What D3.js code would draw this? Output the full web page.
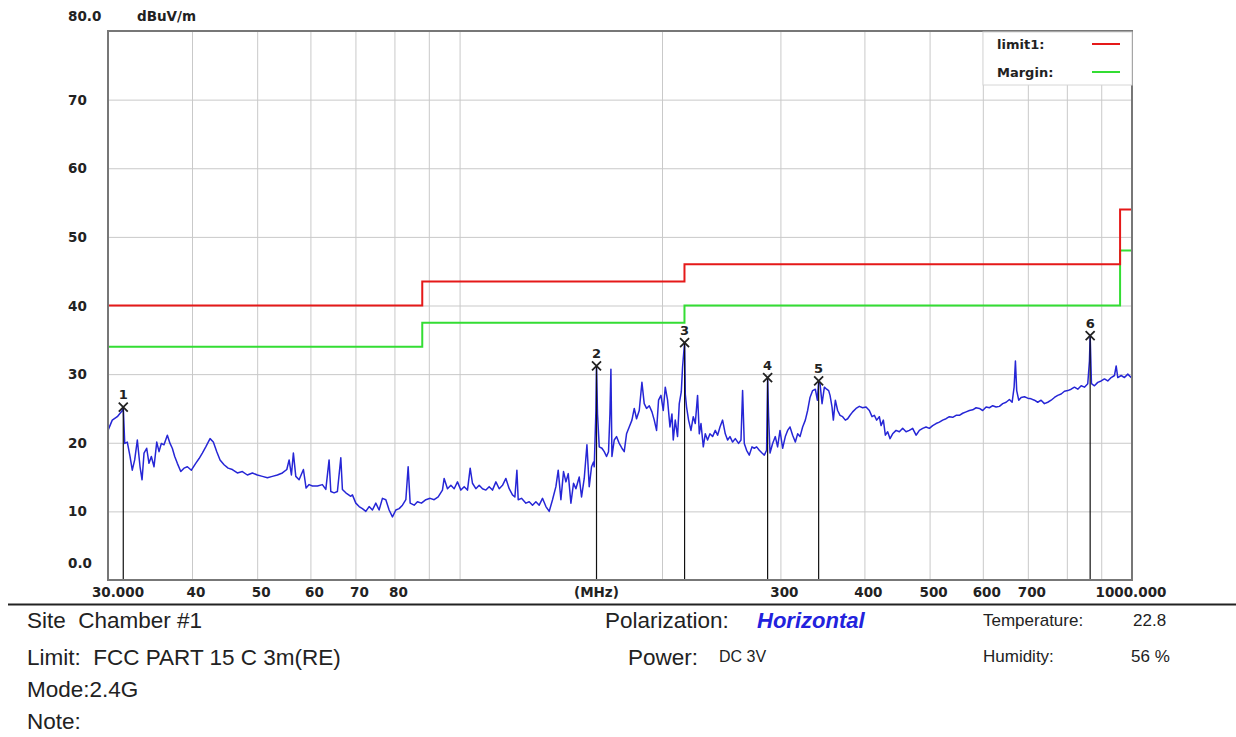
<!DOCTYPE html>
<html>
<head>
<meta charset="utf-8">
<script src="https://cdn.jsdelivr.net/npm/d3@7"></script>
<style>
  body { margin: 0; background: #fff; }
  svg { display: block; }
  .axis-label { font-family: "DejaVu Sans", sans-serif; font-weight: bold; font-size: 13.5px; fill: #222; }
  .info { font-family: "Liberation Sans", Arial, sans-serif; fill: #222; }
</style>
</head>
<body>
<div id="chart"><svg></svg></div>
<script>
// Axis ticks
const yTickValues = [0, 10, 20, 30, 40, 50, 60, 70, 80];
const yTickText = ['0.0', '10', '20', '30', '40', '50', '60', '70', '80.0'];
const xGridValues = [40, 50, 60, 70, 80, 90, 100, 200, 300, 400, 500, 600, 700, 800, 900];
const xTickValues = [30, 40, 50, 60, 70, 80, 300, 400, 500, 600, 700, 1000];
const xTickText = ['30.000', '40', '50', '60', '70', '80', '300', '400', '500', '600', '700', '1000.000'];

// Limit lines (step after each frequency)
const limitFreq = [30, 88, 216, 960, 1000];
const limitLevel = [40, 43.5, 46, 54, 54];
const marginLevel = [34, 37.5, 40, 48, 48];

// Peak markers
const markerFreq = [31.61, 159.82, 216.07, 287.14, 341.96, 866.49];
const markerLevel = [25.2, 31.2, 34.6, 29.5, 29.0, 35.6];

// Measured trace [MHz, dBuV/m]
const trace = [
  [30.00, 21.8], [30.44, 23.3], [30.97, 23.8], [31.51, 24.7], [31.61, 25.2], [31.77, 19.9],
  [32.05, 20.1], [32.35, 18.0], [32.60, 16.0], [32.87, 17.5], [33.17, 20.4], [33.48, 16.5],
  [33.71, 14.6], [33.94, 18.5], [34.25, 19.2], [34.52, 17.0], [34.80, 18.0], [35.12, 16.5],
  [35.45, 20.1], [35.73, 18.7], [36.01, 19.9], [36.34, 19.7], [36.76, 21.1], [37.10, 19.9],
  [37.39, 19.2], [37.70, 18.0], [38.04, 17.0], [38.49, 15.8], [38.92, 16.3], [39.37, 16.5],
  [39.91, 16.0], [40.51, 17.0], [40.98, 17.7], [41.44, 18.5], [41.93, 19.4], [42.55, 20.6],
  [43.03, 20.1], [43.54, 18.7], [44.03, 17.5], [44.64, 16.8], [45.26, 16.3], [45.93, 16.1],
  [46.72, 15.6], [47.53, 15.8], [48.35, 15.3], [49.19, 15.6], [50.03, 15.3], [50.90, 15.1],
  [51.78, 14.9], [52.67, 15.1], [53.58, 15.3], [54.51, 15.6], [55.34, 16.1], [55.78, 17.5],
  [56.22, 15.3], [56.60, 18.5], [57.07, 15.1], [57.72, 14.6], [58.58, 16.1], [59.12, 13.4],
  [59.73, 13.9], [60.41, 13.7], [61.46, 13.7], [62.51, 13.9], [63.25, 13.2], [63.96, 17.5],
  [64.34, 12.9], [65.07, 12.7], [65.81, 12.9], [66.58, 17.8], [66.95, 13.2], [67.73, 12.7],
  [68.90, 12.2], [69.28, 12.4], [70.09, 11.2], [70.89, 10.7], [71.69, 10.4], [72.54, 10.0],
  [73.36, 10.7], [74.20, 10.2], [75.06, 11.2], [75.91, 10.2], [76.78, 11.9], [77.68, 11.7],
  [78.56, 10.2], [79.46, 9.2], [80.39, 10.2], [81.30, 10.4], [82.23, 10.9], [83.19, 11.7],
  [83.85, 16.5], [84.43, 11.2], [85.59, 10.9], [86.56, 11.4], [87.76, 11.2], [89.09, 11.7],
  [90.41, 11.9], [91.66, 11.7], [92.93, 12.1], [94.30, 13.1], [94.85, 14.8], [95.94, 13.3],
  [97.06, 13.8], [98.16, 13.3], [99.28, 14.3], [100.44, 13.1], [101.59, 13.6], [102.74, 13.1],
  [103.69, 16.3], [104.51, 14.1], [105.73, 13.3], [106.94, 13.8], [108.16, 13.3], [109.42, 13.1],
  [110.66, 13.6], [111.92, 13.1], [113.24, 14.3], [114.53, 13.3], [115.83, 13.8], [117.18, 14.8],
  [118.51, 13.3], [119.86, 12.4], [120.85, 12.1], [121.68, 16.0], [122.23, 11.7], [123.62, 11.9],
  [125.50, 11.2], [126.92, 11.4], [128.37, 10.9], [129.86, 11.4], [131.34, 10.9], [132.83, 11.9],
  [134.40, 10.7], [135.92, 10.0], [137.47, 11.7], [139.07, 13.6], [140.18, 16.0], [141.47, 11.7],
  [142.75, 15.8], [143.93, 14.3], [145.07, 15.5], [146.41, 11.2], [147.73, 14.1], [148.93, 13.3],
  [150.64, 15.0], [151.83, 12.1], [153.24, 14.8], [154.66, 19.7], [155.88, 13.6], [157.12, 16.5],
  [158.19, 17.2], [158.57, 16.5], [159.50, 24.7], [159.82, 31.2], [160.37, 24.2], [161.32, 19.4],
  [162.81, 19.2], [164.10, 18.7], [165.40, 18.0], [166.53, 18.7], [167.33, 24.2], [167.90, 30.7],
  [168.49, 18.0], [169.82, 20.4], [171.16, 20.9], [172.75, 19.9], [174.35, 19.2], [175.73, 18.7],
  [177.13, 21.3], [178.76, 22.3], [180.43, 23.3], [181.87, 25.0], [183.31, 23.5], [185.00, 24.7],
  [186.71, 28.8], [188.19, 25.7], [189.69, 25.0], [191.46, 25.4], [193.23, 24.5], [194.76, 23.3],
  [196.31, 21.8], [197.65, 26.2], [199.29, 26.9], [200.86, 24.7], [202.25, 28.1], [203.85, 26.2],
  [205.53, 22.3], [206.93, 24.2], [207.86, 20.4], [209.28, 23.3], [210.94, 20.9], [212.17, 25.7],
  [213.64, 27.4], [214.58, 31.0], [216.07, 34.6], [216.59, 27.1], [217.56, 25.2], [219.05, 23.3],
  [220.85, 21.8], [222.60, 23.8], [224.12, 22.8], [225.90, 26.9], [227.24, 21.3], [228.56, 22.8],
  [230.37, 19.4], [231.94, 21.3], [233.78, 20.4], [235.71, 21.3], [237.81, 20.9], [240.04, 21.8],
  [241.94, 21.1], [243.93, 22.3], [246.11, 23.3], [248.39, 21.3], [250.36, 20.4], [252.42, 20.9],
  [254.70, 20.1], [257.05, 20.6], [259.97, 19.9], [262.11, 20.4], [263.56, 27.6], [265.09, 19.9],
  [267.20, 18.9], [269.69, 18.2], [272.18, 19.4], [274.34, 19.2], [276.52, 19.4], [279.08, 18.9],
  [281.68, 18.5], [283.92, 18.2], [286.14, 18.9], [287.14, 29.5], [288.12, 23.8], [289.51, 18.5],
  [292.10, 19.9], [294.80, 20.9], [297.13, 19.4], [299.58, 21.8], [302.29, 19.2], [305.08, 20.9],
  [307.50, 21.8], [310.04, 22.3], [312.81, 21.1], [315.73, 20.1], [318.23, 21.3], [320.85, 20.9],
  [323.72, 22.3], [326.72, 23.3], [329.31, 24.7], [332.02, 26.6], [335.02, 27.6], [338.12, 27.8],
  [340.46, 26.2], [341.96, 29.0], [343.60, 28.6], [345.98, 25.7], [348.73, 28.1], [351.49, 27.8],
  [353.89, 27.6], [355.58, 26.9], [358.01, 25.2], [359.63, 23.3], [362.08, 26.2], [364.95, 24.7],
  [367.96, 24.0], [371.24, 23.8], [374.71, 23.3], [377.68, 23.5], [380.79, 24.0], [384.20, 24.5],
  [388.68, 25.0], [393.14, 25.3], [397.61, 25.1], [402.24, 25.2], [406.82, 24.7], [410.57, 23.8],
  [413.83, 24.0], [417.11, 23.3], [420.97, 23.8], [423.46, 22.5], [426.81, 23.3], [429.73, 21.1],
  [433.13, 21.6], [436.70, 20.6], [440.60, 21.3], [445.79, 21.8], [450.85, 21.6], [455.98, 22.1],
  [461.30, 21.6], [466.54, 21.8], [471.84, 22.1], [477.40, 21.1], [482.82, 21.8], [488.31, 22.1],
  [494.00, 22.3], [499.62, 22.1], [505.30, 22.5], [511.24, 22.8], [517.05, 23.0], [522.93, 23.3],
  [529.03, 23.5], [535.04, 23.8], [541.18, 23.7], [547.49, 24.0], [553.71, 24.0], [560.01, 24.3],
  [566.60, 24.5], [573.04, 24.7], [579.55, 24.8], [586.31, 25.1], [592.97, 25.0], [599.77, 24.7],
  [606.77, 25.2], [613.67, 25.1], [620.64, 25.4], [627.94, 25.2], [635.08, 25.3], [642.30, 25.7],
  [649.79, 25.9], [657.17, 26.3], [663.32, 25.9], [667.84, 28.1], [670.85, 31.9], [673.81, 27.6],
  [678.48, 26.2], [684.06, 26.6], [691.84, 26.7], [699.70, 26.5], [707.93, 26.4], [715.98, 26.2],
  [724.11, 25.9], [732.56, 26.2], [740.89, 25.7], [749.38, 25.9], [758.13, 26.2], [766.74, 26.6],
  [775.46, 26.9], [784.58, 27.1], [793.50, 27.5], [802.52, 27.6], [811.88, 27.8], [821.10, 28.1],
  [830.52, 27.8], [840.21, 28.3], [849.76, 28.1], [859.41, 28.6], [864.41, 31.9], [866.49, 35.6],
  [870.40, 28.6], [879.32, 28.3], [889.40, 28.8], [899.78, 29.0], [910.00, 29.3], [920.34, 29.0],
  [931.18, 29.5], [941.76, 29.8], [947.24, 31.2], [952.46, 29.5], [963.57, 29.8], [974.52, 29.5],
  [985.69, 30.0], [997.19, 29.5], [1000.0, 29.6]
];

// Test info
const infoLeft = ['Site  Chamber #1', 'Limit:  FCC PART 15 C 3m(RE)', 'Mode:2.4G', 'Note:'];

const config = {
  containerWidth: 1236,
  containerHeight: 737,
  margin: { top: 31, left: 108, right: 104, bottom: 157 }
};
const width = config.containerWidth - config.margin.left - config.margin.right;
const height = config.containerHeight - config.margin.top - config.margin.bottom;

const svg = d3.select('#chart svg')
  .attr('width', config.containerWidth)
  .attr('height', config.containerHeight);

svg.append('rect')
  .attr('width', config.containerWidth)
  .attr('height', config.containerHeight)
  .attr('fill', '#fff');

const chart = svg.append('g')
  .attr('transform', `translate(${config.margin.left},${config.margin.top})`);

const xScale = d3.scaleLog().domain([30, 1000]).range([0, width]);
const yScale = d3.scaleLinear().domain([0, 80]).range([height, 0]);

// Grid lines
const xGrid = d3.axisBottom(xScale).tickValues(xGridValues).tickSize(-height).tickFormat('');
const yGrid = d3.axisLeft(yScale).tickValues(yTickValues.slice(1, -1)).tickSize(-width).tickFormat('');

chart.append('g')
  .attr('transform', `translate(0,${height})`)
  .call(xGrid)
  .call(g => g.select('.domain').remove())
  .call(g => g.selectAll('line').attr('stroke', '#c9c9c9'));

chart.append('g')
  .call(yGrid)
  .call(g => g.select('.domain').remove())
  .call(g => g.selectAll('line').attr('stroke', '#c9c9c9'));

// Tick labels
yTickValues.forEach((v, i) => {
  let yPos = config.margin.top + yScale(v) + 5;
  if (i === 0) yPos = config.margin.top + height - 12;
  if (i === yTickValues.length - 1) yPos = 21;
  svg.append('text')
    .attr('class', 'axis-label')
    .attr('x', 68)
    .attr('y', yPos)
    .text(yTickText[i]);
});

xTickValues.forEach((v, i) => {
  let dx = 4;
  if (i === 0) dx = 10;
  if (i === xTickValues.length - 1) dx = -1;
  svg.append('text')
    .attr('class', 'axis-label')
    .attr('text-anchor', 'middle')
    .attr('x', config.margin.left + xScale(v) + dx)
    .attr('y', 597)
    .text(xTickText[i]);
});

svg.append('text')
  .attr('class', 'axis-label')
  .attr('text-anchor', 'middle')
  .attr('x', config.margin.left + width * 0.477)
  .attr('y', 597)
  .text('(MHz)');

svg.append('text')
  .attr('class', 'axis-label')
  .attr('x', 137)
  .attr('y', 21)
  .text('dBuV/m');

// Limit and margin lines
const stepLine = levels => d3.line()
  .x(d => xScale(d))
  .y((d, i) => yScale(levels[i]))
  .curve(d3.curveStepAfter)(limitFreq);

chart.append('path')
  .attr('d', stepLine(marginLevel))
  .attr('fill', 'none')
  .attr('stroke', '#33dd33')
  .attr('stroke-width', 2);

chart.append('path')
  .attr('d', stepLine(limitLevel))
  .attr('fill', 'none')
  .attr('stroke', '#e51919')
  .attr('stroke-width', 2);

// Trace
const line = d3.line()
  .x(d => xScale(d[0]))
  .y(d => yScale(d[1]));

chart.append('path')
  .datum(trace)
  .attr('d', line)
  .attr('fill', 'none')
  .attr('stroke', '#2626d6')
  .attr('stroke-width', 1.5)
  .attr('stroke-linejoin', 'round');

// Markers
const markers = chart.selectAll('.marker')
  .data(markerFreq)
  .join('g')
  .attr('class', 'marker')
  .attr('transform', (d, i) => `translate(${xScale(d)},${yScale(markerLevel[i])})`);

markers.append('line')
  .attr('y2', (d, i) => height - yScale(markerLevel[i]))
  .attr('stroke', '#111')
  .attr('stroke-width', 1.2);

markers.append('path')
  .attr('d', 'M-4.5,-4.5L4.5,4.5M-4.5,4.5L4.5,-4.5')
  .attr('stroke', '#222')
  .attr('stroke-width', 1.8);

markers.append('text')
  .attr('class', 'axis-label')
  .attr('text-anchor', 'middle')
  .attr('y', -8)
  .style('font-size', '13px')
  .text((d, i) => i + 1);

// Frame
chart.append('rect')
  .attr('width', width)
  .attr('height', height)
  .attr('fill', 'none')
  .attr('stroke', '#777')
  .attr('stroke-width', 2);

// Legend
const legend = chart.append('g')
  .attr('transform', `translate(${width - 149},1)`);

legend.append('rect')
  .attr('width', 149)
  .attr('height', 53)
  .attr('fill', '#fff')
  .attr('stroke', '#d6d6d6');

[['limit1:', '#e51919'], ['Margin:', '#33dd33']].forEach(([name, color], i) => {
  legend.append('text')
    .attr('class', 'axis-label')
    .attr('x', 14)
    .attr('y', 17 + i * 28)
    .style('font-size', '13px')
    .text(name);
  legend.append('line')
    .attr('x1', 109).attr('x2', 137)
    .attr('y1', 12 + i * 28).attr('y2', 12 + i * 28)
    .attr('stroke', color)
    .attr('stroke-width', 2);
});

// Separator
svg.append('line')
  .attr('x1', 8).attr('x2', config.containerWidth)
  .attr('y1', 604.5).attr('y2', 604.5)
  .attr('stroke', '#222')
  .attr('stroke-width', 2);

// Info block
const infoY = [628, 665, 697, 729];
infoLeft.forEach((t, i) => {
  svg.append('text')
    .attr('class', 'info')
    .attr('x', 27)
    .attr('y', infoY[i])
    .style('font-size', '22.5px')
    .style('white-space', 'pre')
    .text(t);
});

svg.append('text').attr('class', 'info')
  .attr('x', 605).attr('y', 628).style('font-size', '22.5px')
  .text('Polarization:');
svg.append('text').attr('class', 'info')
  .attr('x', 757).attr('y', 628)
  .style('font-size', '22px').style('font-weight', 'bold').style('font-style', 'italic')
  .style('fill', '#2222dd')
  .text('Horizontal');
svg.append('text').attr('class', 'info')
  .attr('x', 628).attr('y', 665).style('font-size', '22.5px')
  .text('Power:');
svg.append('text').attr('class', 'info')
  .attr('x', 719).attr('y', 662).style('font-size', '16px')
  .text('DC 3V');
svg.append('text').attr('class', 'info')
  .attr('x', 983).attr('y', 626).style('font-size', '17px')
  .text('Temperature:');
svg.append('text').attr('class', 'info')
  .attr('x', 1133).attr('y', 626).style('font-size', '17px')
  .text('22.8');
svg.append('text').attr('class', 'info')
  .attr('x', 983).attr('y', 662).style('font-size', '17px')
  .text('Humidity:');
svg.append('text').attr('class', 'info')
  .attr('x', 1131).attr('y', 662).style('font-size', '17px')
  .text('56 %');
</script>
</body>
</html>
